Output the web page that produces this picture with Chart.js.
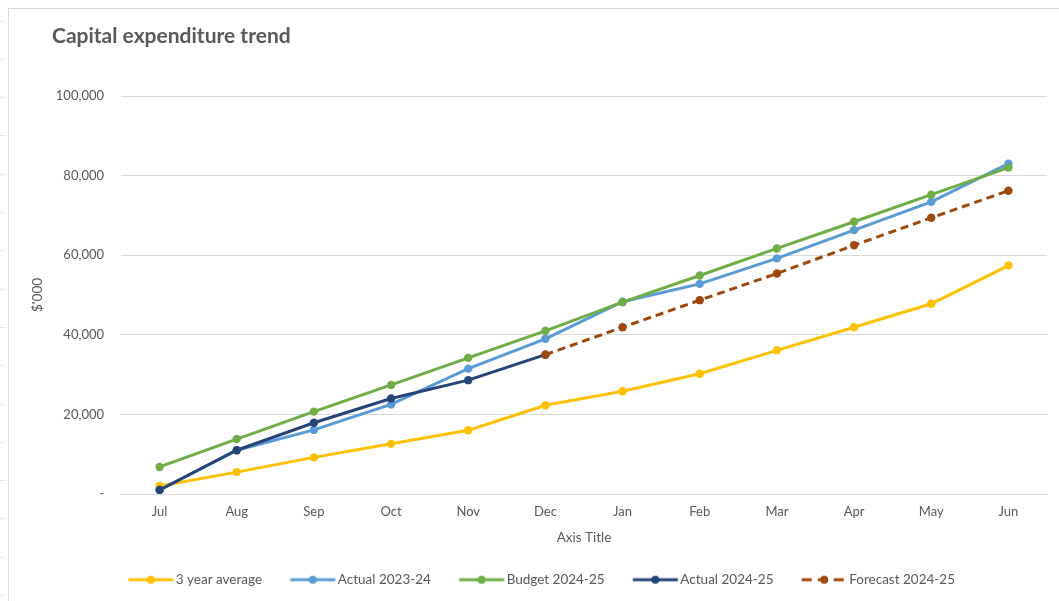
<!DOCTYPE html>
<html>
<head>
<meta charset="utf-8">
<script src="https://cdn.jsdelivr.net/npm/chart.js@4.4.1/dist/chart.umd.min.js"></script>
<style>
  html, body { margin: 0; padding: 0; background: #ffffff; }
  #wrap { width: 1059px; height: 601px; position: relative; }
</style>
</head>
<body>
<div id="wrap"><canvas id="c" width="1059" height="601"></canvas></div>
<script>
const chartTitle = "Capital expenditure trend";
const months = ["Jul","Aug","Sep","Oct","Nov","Dec","Jan","Feb","Mar","Apr","May","Jun"];
const yTicks = [0, 20000, 40000, 60000, 80000, 100000];
const threeYearAvg = [2000, 5500, 9200, 12600, 16000, 22300, 25800, 30200, 36100, 41900, 47800, 57400];
const actual2324   = [1000, 11000, 16100, 22500, 31500, 39000, 48300, 52800, 59200, 66300, 73400, 83000];
const budget2425   = [6800, 13800, 20700, 27400, 34200, 41000, 48200, 54900, 61700, 68400, 75200, 82000];
const actual2425   = [1000, 11000, 17900, 24000, 28600, 35000, null, null, null, null, null, null];
const forecast2425 = [null, null, null, null, null, 35000, 41900, 48700, 55400, 62500, 69400, 76200];

const seriesNames  = ["3 year average", "Actual 2023-24", "Budget 2024-25", "Actual 2024-25", "Forecast 2024-25"];
const seriesColors = ["#FFC000", "#5B9BD5", "#70AD47", "#264478", "#9E480E"];
const seriesData   = [threeYearAvg, actual2324, budget2425, actual2425, forecast2425];
const seriesDash   = [[], [], [], [], [8, 5]];
const legendDash   = [[], [], [], [], [10, 6]];

const FONT = "Lato, 'Open Sans', 'Noto Sans', sans-serif";
const TXT = "#595959";
const GRID = "#d9d9d9";

function legendImage(color, dash) {
  const cv = document.createElement('canvas');
  cv.width = 70; cv.height = 12;
  const g = cv.getContext('2d');
  g.strokeStyle = color; g.lineWidth = 3;
  g.setLineDash(dash);
  g.beginPath(); g.moveTo(23.75, 6); g.lineTo(68.75, 6); g.stroke();
  g.setLineDash([]);
  g.fillStyle = color;
  g.beginPath(); g.arc(46.25, 6, 4, 0, Math.PI * 2); g.fill();
  return cv;
}
const legendImgs = seriesColors.map((c, i) => legendImage(c, legendDash[i]));

const datasets = seriesNames.map((name, i) => ({
  label: name,
  data: seriesData[i],
  borderColor: seriesColors[i],
  backgroundColor: seriesColors[i],
  borderWidth: 3,
  borderDash: seriesDash[i],
  pointRadius: 4.2,
  pointHoverRadius: 4.2,
  pointBorderWidth: 0,
  pointBackgroundColor: seriesColors[i],
  tension: 0,
  spanGaps: false,
  order: seriesNames.length - i
}));

const decorPlugin = {
  id: 'decor',
  afterLayout(chart) {
    if (chart.legend) { chart.legend.left += 9; chart.legend.right += 9; }
  },
  beforeDraw(chart) {
    const ctx = chart.ctx;
    ctx.save();
    ctx.fillStyle = '#ffffff';
    ctx.fillRect(0, 0, chart.width, chart.height);
    ctx.strokeStyle = GRID;
    ctx.lineWidth = 1;
    ctx.beginPath();
    ctx.moveTo(8.5, 8); ctx.lineTo(8.5, chart.height);
    ctx.moveTo(8, 8.5); ctx.lineTo(chart.width, 8.5);
    ctx.stroke();
    ctx.strokeStyle = '#e6e6e6';
    ctx.beginPath();
    for (let y = 20.5; y < chart.height; y += 38.3) {
      const yy = Math.round(y) + 0.5;
      ctx.moveTo(0, yy); ctx.lineTo(6, yy);
    }
    ctx.stroke();
    ctx.restore();
  },
  afterDraw(chart) {
    const ctx = chart.ctx;
    ctx.save();
    ctx.font = "bold 21px " + FONT;
    ctx.fillStyle = TXT;
    ctx.textBaseline = 'middle';
    ctx.textAlign = 'left';
    ctx.fillText(chartTitle, 52, 36);
    ctx.restore();
  }
};

new Chart(document.getElementById('c'), {
  type: 'line',
  data: { labels: months, datasets },
  plugins: [decorPlugin],
  options: {
    responsive: false,
    animation: false,
    events: [],
    layout: { padding: { top: 96, left: 0, right: 12, bottom: 4.5 } },
    plugins: {
      title: { display: false },
      tooltip: { enabled: false },
      legend: {
        display: true,
        position: 'bottom',
        labels: {
          usePointStyle: true,
          pointStyleWidth: 59,
          padding: 10,
          color: TXT,
          font: { family: FONT, size: 13.5 },
          generateLabels(chart) {
            return seriesNames.map((n, i) => ({
              text: n,
              fillStyle: seriesColors[i],
              strokeStyle: seriesColors[i],
              lineWidth: 0,
              pointStyle: legendImgs[i],
              hidden: false,
              datasetIndex: i,
              fontColor: TXT
            }));
          }
        }
      }
    },
    scales: {
      x: {
        offset: true,
        grid: { display: false, drawTicks: false },
        border: { display: false },
        ticks: { color: TXT, font: { family: FONT, size: 13 }, padding: 10, maxRotation: 0, autoSkip: false },
        title: { display: true, text: 'Axis Title', color: TXT, font: { family: FONT, size: 13.5 }, padding: { top: 0, bottom: 17.5 } },
        afterFit(scale) { scale.height = 69; }
      },
      y: {
        min: 0,
        max: 100000,
        afterBuildTicks(scale) { scale.ticks = yTicks.map(v => ({ value: v })); },
        grid: { color: GRID, lineWidth: 1, drawTicks: false },
        border: { display: false },
        ticks: {
          color: TXT,
          font: { family: FONT, size: 13 },
          padding: 17,
          callback(v) { return v === 0 ? '-' : v.toLocaleString('en-US'); }
        },
        title: { display: true, text: "$'000", color: TXT, font: { family: FONT, size: 13.5 }, padding: { top: 30, bottom: 0 } },
        afterFit(scale) { scale.width = 121; }
      }
    }
  }
});
</script>
</body>
</html>
